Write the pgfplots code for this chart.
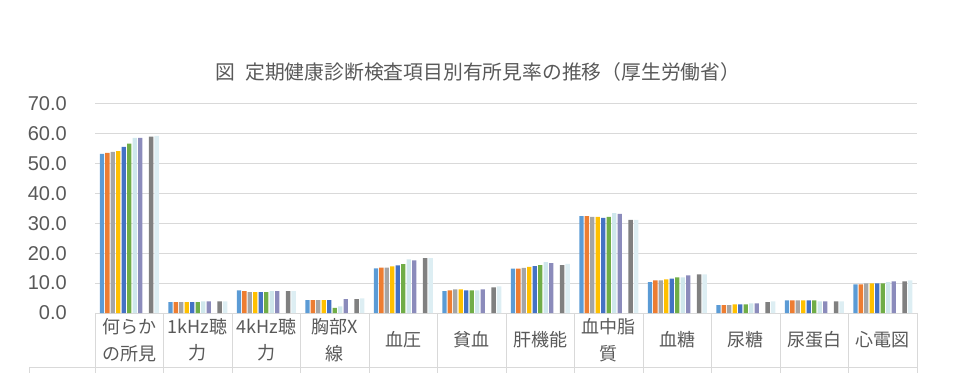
\documentclass[border=0pt]{standalone}
\usepackage{fontspec}
\setmainfont{Liberation Sans}
\newfontfamily\cjk{Noto Sans CJK JP}
\usepackage{pgfplots}
\usepackage{pgfplotstable}
\pgfplotsset{compat=1.18}
\definecolor{txt}{HTML}{595959}
\definecolor{gridc}{HTML}{D9D9D9}
\definecolor{c1}{HTML}{5B9BD5}
\definecolor{c2}{HTML}{ED7D31}
\definecolor{c3}{HTML}{A5A5A5}
\definecolor{c4}{HTML}{FFC000}
\definecolor{c5}{HTML}{4472C4}
\definecolor{c6}{HTML}{70AD47}
\definecolor{c7}{HTML}{CFE7EC}
\definecolor{c8}{HTML}{8B8BBB}
\definecolor{c10}{HTML}{808080}
\definecolor{c11}{HTML}{DDEEF3}
\pgfplotstableread{
x s1 s2 s3 s4 s5 s6 s7 s8 s10 s11
0 53.2 53.5 53.8 54.1 55.5 56.6 58.5 58.5 58.9 59.2
1 3.6 3.6 3.6 3.6 3.6 3.6 3.9 3.9 3.9 3.9
2 7.6 7.3 7.0 7.0 7.0 7.0 7.3 7.3 7.3 7.3
3 4.3 4.3 4.3 4.3 4.3 1.7 2.2 4.6 4.6 4.9
4 14.9 15.2 15.2 15.6 15.9 16.3 17.9 17.6 18.3 18.3
5 7.3 7.6 7.9 7.9 7.6 7.6 7.6 7.9 8.6 8.9
6 14.8 14.8 15.1 15.4 15.7 16.0 17.0 16.7 16.0 16.4
7 32.4 32.4 32.1 32.1 31.8 32.1 33.4 33.1 31.1 31.1
8 10.3 10.9 10.9 11.2 11.5 11.9 11.9 12.6 12.9 12.9
9 2.6 2.6 2.6 2.9 2.9 2.9 3.2 3.2 3.6 3.9
10 4.2 4.2 4.2 4.2 4.2 4.2 3.9 3.9 3.9 3.9
11 9.6 9.6 9.9 9.9 9.9 9.9 10.3 10.6 10.6 10.9
}\data
\begin{document}
\begin{tikzpicture}
\useasboundingbox (0,0) rectangle (960bp,373bp);
\node[font=\cjk\fontsize{19.8bp}{22bp}\selectfont, text=txt, inner sep=0pt] at (478bp,301bp) {図\hspace{0.5em}定期健康診断検査項目別有所見率の推移（厚生労働省）};
% data-table borders below the plot area
\foreach \k in {0,...,12} {
  \draw[gridc, line width=0.9bp] (95bp+\k*68.5bp,60bp) -- (95bp+\k*68.5bp,0bp);
}
\draw[gridc, line width=0.9bp] (29bp,6bp) -- (917bp,6bp);
\draw[gridc, line width=0.9bp] (29bp,6bp) -- (29bp,0bp);
\begin{axis}[
  at={(95bp,60bp)}, anchor=south west,
  scale only axis, width=822bp, height=209.5bp,
  xmin=-0.5, xmax=11.5, ymin=0, ymax=70,
  axis line style={draw=none},
  major tick length=0pt,
  ytick={0,10,...,70},
  ymajorgrids, grid style={gridc, line width=0.9bp},
  yticklabel style={anchor=east, inner sep=0pt, xshift=-28bp, text=txt, font=\fontsize{20bp}{24bp}\selectfont},
  /pgf/number format/.cd, fixed, fixed zerofill, precision=1, assume math mode=true, /pgfplots/.cd,
  xtick={0,...,11},
  xticklabels={{何らか\\の所見},{1kHz聴\\力},{4kHz聴\\力},{胸部X\\線},{血圧},{貧血},{肝機能},{血中脂\\質},{血糖},{尿糖},{尿蛋白},{心電図}},
  xticklabel style={anchor=center, align=center, inner sep=0pt, yshift=-27bp, text=txt, font=\cjk\fontsize{18bp}{26.5bp}\selectfont},
  clip=false,
]
\addplot[ybar, bar width=4.3bp, bar shift=-27.35bp, fill=c1, draw=none] table[x=x,y=s1]{\data};
\addplot[ybar, bar width=4.3bp, bar shift=-21.88bp, fill=c2, draw=none] table[x=x,y=s2]{\data};
\addplot[ybar, bar width=4.3bp, bar shift=-16.41bp, fill=c3, draw=none] table[x=x,y=s3]{\data};
\addplot[ybar, bar width=4.3bp, bar shift=-10.94bp, fill=c4, draw=none] table[x=x,y=s4]{\data};
\addplot[ybar, bar width=4.3bp, bar shift=-5.47bp, fill=c5, draw=none] table[x=x,y=s5]{\data};
\addplot[ybar, bar width=4.3bp, bar shift=0bp, fill=c6, draw=none] table[x=x,y=s6]{\data};
\addplot[ybar, bar width=4.3bp, bar shift=5.47bp, fill=c7, draw=none] table[x=x,y=s7]{\data};
\addplot[ybar, bar width=4.3bp, bar shift=10.94bp, fill=c8, draw=none] table[x=x,y=s8]{\data};
\addplot[ybar, bar width=4.3bp, bar shift=21.88bp, fill=c10, draw=none] table[x=x,y=s10]{\data};
\addplot[ybar, bar width=4.3bp, bar shift=27.35bp, fill=c11, draw=none] table[x=x,y=s11]{\data};
\end{axis}
\end{tikzpicture}
\end{document}
